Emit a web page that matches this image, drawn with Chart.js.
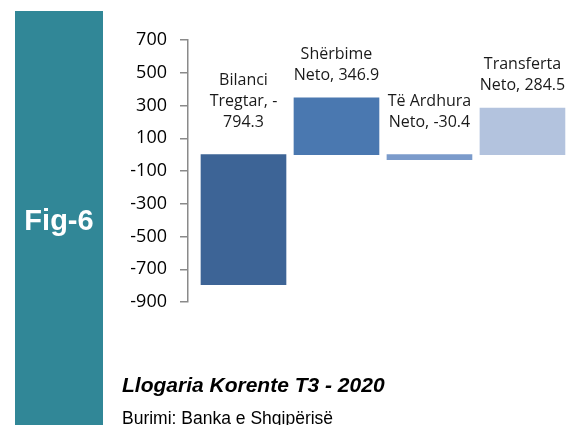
<!DOCTYPE html>
<html>
<head>
<meta charset="utf-8">
<script src="https://cdn.jsdelivr.net/npm/chart.js@4/dist/chart.umd.min.js"></script>
<style>
  html, body { margin: 0; padding: 0; background: #ffffff; }
  #wrap { position: relative; width: 571px; height: 425px; overflow: hidden; }
  #panel { position: absolute; left: 15px; top: 11px; width: 88px; height: 414px; background: #318797; }
  #c { position: absolute; left: 0; top: 0; }
</style>
</head>
<body>
<div id="wrap">
  <div id="panel"></div>
  <canvas id="c" width="571" height="425"></canvas>
</div>
<script>
const categories = ['Bilanci Tregtar', 'Shërbime Neto', 'Të Ardhura Neto', 'Transferta Neto'];
const values = [-794.3, 346.9, -30.4, 284.5];
const yTicks = [700, 500, 300, 100, -100, -300, -500, -700, -900];
const barColors = ['#3d6496', '#4a78b0', '#7b9bcb', '#b3c3de'];
const figLabel = 'Fig-6';
const chartTitle = 'Llogaria Korente T3 - 2020';
const sourceText = 'Burimi: Banka e Shqipërisë';

const LABEL_FONT = '16px "Open Sans"';

function wrapLabel(ctx, text, maxW) {
  const tokens = [];
  let cur = '';
  for (let i = 0; i < text.length; i++) {
    const ch = text[i];
    cur += ch;
    if (ch === ' ' || (ch === '-' && /\d/.test(text[i + 1] || ''))) {
      tokens.push(cur); cur = '';
    }
  }
  if (cur) tokens.push(cur);
  const lines = [];
  let line = '';
  for (const t of tokens) {
    const test = line + t;
    if (line && ctx.measureText(test.trimEnd()).width > maxW) {
      lines.push(line.trimEnd());
      line = t;
    } else {
      line = test;
    }
  }
  if (line) lines.push(line.trimEnd());
  return lines;
}

const labelPlugin = {
  id: 'barLabels',
  afterDatasetsDraw(chart) {
    const ctx = chart.ctx;
    const meta = chart.getDatasetMeta(0);
    ctx.save();
    ctx.font = LABEL_FONT;
    ctx.fillStyle = '#1a1a1a';
    ctx.textAlign = 'center';
    ctx.textBaseline = 'middle';
    meta.data.forEach((el, i) => {
      const v = values[i];
      const text = categories[i] + ', ' + v.toFixed(1);
      const lines = wrapLabel(ctx, text, 90);
      const top = Math.min(el.y, el.base);
      const gap = v >= 0 ? 22.5 : 32;
      const lh = 21;
      const lastY = top - gap;
      lines.forEach((ln, k) => {
        ctx.fillText(ln, el.x, lastY - (lines.length - 1 - k) * lh);
      });
    });
    ctx.restore();
  }
};

const textPlugin = {
  id: 'pageTexts',
  afterDraw(chart) {
    const ctx = chart.ctx;
    ctx.save();
    ctx.textBaseline = 'alphabetic';
    ctx.fillStyle = '#ffffff';
    ctx.textAlign = 'center';
    ctx.font = 'bold 29px "Liberation Sans"';
    ctx.fillText(figLabel, 59, 230);
    ctx.fillStyle = '#000000';
    ctx.textAlign = 'left';
    ctx.font = 'italic bold 21px "Liberation Sans"';
    ctx.fillText(chartTitle, 122, 392);
    ctx.font = '17.5px "Liberation Sans"';
    ctx.fillText(sourceText, 122, 424);
    ctx.restore();
  }
};

new Chart(document.getElementById('c'), {
  type: 'bar',
  data: {
    datasets: [{
      data: values.map((v, i) => ({ x: i, y: v })),
      backgroundColor: barColors,
      borderWidth: 0,
      barThickness: 85
    }]
  },
  options: {
    responsive: false,
    animation: false,
    events: [],
    layout: { padding: { top: 40, bottom: 123, left: 0, right: 0 } },
    plugins: { legend: { display: false }, tooltip: { enabled: false } },
    scales: {
      x: {
        type: 'linear',
        min: -0.5968,
        max: 3.522,
        offset: false,
        bounds: 'ticks',
        display: false,
        grid: { display: false, offset: false }
      },
      y: {
        min: -900,
        max: 700,
        afterFit(scale) { scale.width = 188; },
        afterBuildTicks(scale) { scale.ticks = yTicks.map(v => ({ value: v })); },
        ticks: {
          padding: 13,
          color: '#000000',
          font: { family: '"Open Sans"', size: 18 }
        },
        grid: {
          drawOnChartArea: false,
          drawTicks: true,
          tickLength: 8,
          color: '#8a8a8a',
          lineWidth: 1.5
        },
        border: { display: true, color: '#8a8a8a', width: 1.5 }
      }
    }
  },
  plugins: [labelPlugin, textPlugin]
});
</script>
</body>
</html>
